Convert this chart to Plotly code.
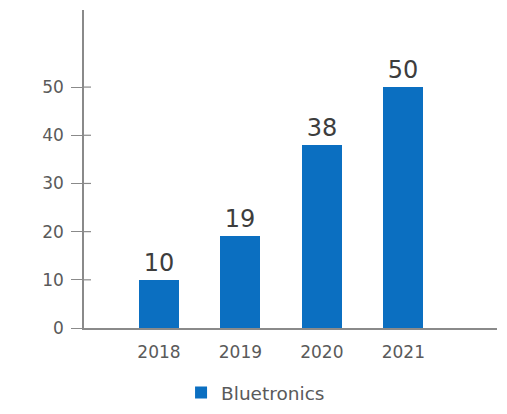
import plotly.graph_objects as go

# Data
years = ["2018", "2019", "2020", "2021"]
values = [10, 19, 38, 50]
series_name = "Bluetronics"
y_ticks = [0, 10, 20, 30, 40, 50]

bar_color = "#0b6fc1"
axis_color = "#8a8a8a"
label_color = "#5a5a5a"
font_family = "DejaVu Sans, Verdana, sans-serif"

plot_w = 507 - 84 - 10

fig = go.Figure()
fig.add_trace(go.Bar(
    x=years, y=values, name=series_name,
    marker=dict(color=bar_color, line=dict(width=0)),
    width=0.49,
    text=[str(v) for v in values], textposition="outside",
    textfont=dict(size=24, color="#3d3d3d", family=font_family),
    cliponaxis=False,
))

# inner halves of the y-axis tick marks (ticks cross the axis line)
for v in y_ticks[1:]:
    fig.add_shape(type="line", xref="paper", yref="y",
                  x0=0, x1=7 / plot_w, y0=v, y1=v,
                  line=dict(color=axis_color, width=1.2))

fig.update_layout(
    width=507, height=414,
    margin=dict(l=84, r=10, t=10, b=86, autoexpand=False),
    paper_bgcolor="white", plot_bgcolor="white",
    font=dict(family=font_family, color=label_color, size=16),
    bargap=0,
    showlegend=True,
    legend=dict(orientation="h", x=0.235, xanchor="left", y=-0.204, yanchor="middle",
                font=dict(size=18.5, color=label_color), itemwidth=30),
    xaxis=dict(
        type="category", range=[-0.92, 4.15],
        showline=True, linecolor=axis_color, linewidth=1.5,
        ticks="", showgrid=False, zeroline=False, ticklabelstandoff=8,
        tickfont=dict(size=17, color=label_color),
    ),
    yaxis=dict(
        range=[0, 66], tickvals=y_ticks,
        showline=True, linecolor=axis_color, linewidth=1.5,
        ticks="outside", ticklen=11, tickcolor=axis_color, tickwidth=1.2,
        showgrid=False, zeroline=False, ticklabelstandoff=4,
        tickfont=dict(size=17, color=label_color),
    ),
)

fig.write_html("out.html")
